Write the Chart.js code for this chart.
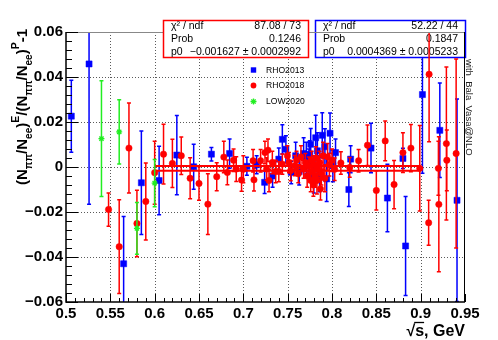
<!DOCTYPE html>
<html><head><meta charset="utf-8">
<script src="https://cdn.jsdelivr.net/npm/chart.js@4.4.1/dist/chart.umd.min.js"></script>
<style>html,body{margin:0;padding:0;background:#fff;}canvas{display:block;}</style>
</head><body>
<canvas id="c" width="498" height="340"></canvas>
<script>
// ---------- data ----------
const x2013 = [0.506,0.526,0.565,0.585,0.605,0.625,0.644,0.664,0.6845,0.704,0.715,0.724,0.733,0.740,0.744,0.748,0.754,0.759,0.763,0.768,0.771,0.774,0.775,0.776,0.7795,0.7816,0.7835,0.786,0.789,0.792,0.794,0.7978,0.801,0.804,0.819,0.821,0.844,0.8625,0.880,0.883,0.902,0.9216,0.941];
const y2013 = [0.0226,0.0458,-0.043,-0.007,-0.006,0.0053,0.0001,0.0057,0.006,0.0003,0.001,-0.0068,-0.004,0.0035,0.0123,0.0079,-0.0024,0.005,-0.002,0.006,0.004,0.002,0.0057,0.0101,-0.0045,0.013,0.0072,-0.003,0.0141,0.009,-0.0053,0.015,0.0005,0.0064,-0.010,0.0035,0.0084,-0.0138,0.0038,-0.0351,0.0322,0.0163,-0.0148];
const e2013 = [0.016,0.0624,0.021,0.023,0.0152,0.0176,0.010,0.003,0.0065,0.004,0.004,0.005,0.005,0.005,0.0065,0.006,0.005,0.006,0.006,0.007,0.007,0.006,0.006,0.007,0.007,0.010,0.008,0.008,0.010,0.008,0.010,0.009,0.007,0.006,0.0075,0.006,0.011,0.015,0.0045,0.022,0.035,0.021,0.045];

const x2018 = [0.548,0.560,0.571,0.580,0.590,0.600,0.610,0.620,0.630,0.640,0.650,0.660,0.670,0.678,0.682,0.689,0.692,0.698,0.700,0.711,0.712,0.7195,0.7244,0.7263,0.7278,0.729,0.7327,0.7365,0.740,0.744,0.7497,0.7515,0.7534,0.758,0.760,0.762,0.765,0.768,0.770,0.772,0.774,0.776,0.777,0.778,0.779,0.780,0.781,0.782,0.783,0.784,0.786,0.787,0.788,0.790,0.792,0.795,0.797,0.800,0.803,0.810,0.820,0.830,0.840,0.850,0.860,0.870,0.880,0.889,0.899,0.909,0.9095,0.920,0.9205,0.929,0.9295,0.940];
const y2018 = [-0.0189,-0.0354,0.0084,-0.0251,-0.0153,-0.0025,0.0057,0.0016,0.0050,-0.0050,-0.0073,-0.0165,-0.0043,0.0044,-0.0024,0.0030,-0.0009,-0.0058,-0.0010,0.0028,-0.0057,0.0028,0.0064,-0.0009,0.0075,-0.0060,0.0020,-0.0020,-0.0020,0.0013,0.0050,0.0020,-0.0016,0.0006,0.0030,-0.0030,0.0045,-0.0010,0.0020,-0.0040,0.0005,-0.0060,0.0030,-0.0020,-0.0080,0.0010,-0.0040,0.0040,-0.0060,-0.0010,0.0020,-0.0097,-0.0030,0.0050,-0.0050,0.0045,0.0010,0.0030,-0.0010,0.0018,-0.0002,0.0028,0.0097,-0.0104,0.0116,-0.0078,0.0064,0.0084,-0.0006,-0.0248,0.0412,-0.0006,-0.0166,0.0104,0.0030,0.0060];
const e2018 = [0.0074,0.0208,0.0200,0.0148,0.0171,0.0140,0.0133,0.0107,0.0083,0.0091,0.0075,0.0135,0.0062,0.0070,0.0055,0.0050,0.0055,0.0050,0.0060,0.0050,0.0050,0.0050,0.0050,0.0050,0.0050,0.0050,0.0050,0.0050,0.0045,0.0045,0.0045,0.0045,0.0045,0.0045,0.0040,0.0040,0.0050,0.0040,0.0040,0.0050,0.0040,0.0050,0.0040,0.0040,0.0050,0.0040,0.0050,0.0050,0.0060,0.0050,0.0050,0.0050,0.0050,0.0060,0.0060,0.0060,0.0050,0.0050,0.0050,0.0050,0.0044,0.0050,0.0090,0.0087,0.0088,0.0107,0.0088,0.0105,0.0190,0.0100,0.0300,0.0120,0.0300,0.0340,0.0135,0.0420];

const xLow = [0.540,0.560,0.580,0.600];
const yLow = [0.0126,0.0156,-0.0273,-0.0072];
const eLow = [0.0257,0.0143,0.0115,0.0105];

const fitRange = [0.6, 0.9];
const fitP0_2013 = 0.0004369;
const fitP0_2018 = -0.001627;

const statLabels = ['\u03c7\u00b2 / ndf', 'Prob', 'p0'];
const stat2018 = ['87.08 / 73', '0.1246', '\u22120.001627 \u00b1 0.0002992'];
const stat2013 = ['52.22 / 44', '0.1847', '0.0004369 \u00b1 0.0005233'];
const legendLabels = ['RHO2013', 'RHO2018', 'LOW2020'];

const xTickValues = [0.5,0.55,0.6,0.65,0.7,0.75,0.8,0.85,0.9,0.95];
const xTickLabels = ['0.5','0.55','0.6','0.65','0.7','0.75','0.8','0.85','0.9','0.95'];
const yTickValues = [-0.06,-0.04,-0.02,0,0.02,0.04,0.06];
const yTickLabels = ['\u22120.06','\u22120.04','\u22120.02','0','0.02','0.04','0.06'];
const xTitle = ['\u221a', 's', ', GeV'];
const yTitleParts = [['(N','m'],['\u03c0\u03c0','b'],['/N','m'],['ee','b'],[')','m'],['E','p'],['/(N','m'],['\u03c0\u03c0','b'],['/N','m'],['ee','b'],[')','m'],['P','p'],['-1','m']];
const sideNote = 'with_Bala_Vasa@NLO';

// ---------- style ----------
const FONT = '"Liberation Sans", Arial, Helvetica, sans-serif';
const BLUE = '#0000ff', RED = '#ff0000', GREEN = '#22ee22';

function pts(xs, ys) { return xs.map((v, i) => ({x: v, y: ys[i]})); }

function drawStatBox(ctx, x0, y0, w, h, color, values) {
  ctx.save();
  ctx.fillStyle = '#fff';
  ctx.fillRect(x0, y0, w, h);
  ctx.strokeStyle = color; ctx.lineWidth = 1.5;
  ctx.strokeRect(x0, y0, w, h);
  ctx.fillStyle = '#000';
  ctx.font = '10.5px ' + FONT;
  ctx.textBaseline = 'middle';
  const rows = [y0 + 6, y0 + 19, y0 + 31.5];
  statLabels.forEach((l, i) => {
    ctx.textAlign = 'left'; ctx.fillText(l, x0 + 7.5, rows[i]);
    ctx.textAlign = 'right'; ctx.fillText(values[i], x0 + w - 7.5, rows[i]);
  });
  ctx.restore();
}

const rootPlugin = {
  id: 'rootStyle',
  beforeDatasetsDraw(chart) {
    const {ctx, chartArea: a, scales: {x, y}} = chart;
    ctx.save();
    ctx.strokeStyle = '#5a5a5a'; ctx.lineWidth = 1; ctx.setLineDash([1, 2]);
    ctx.beginPath();
    xTickValues.slice(1, -1).forEach(v => {
      const px = Math.round(x.getPixelForValue(v)) + 0.5;
      ctx.moveTo(px, a.top); ctx.lineTo(px, a.bottom);
    });
    yTickValues.slice(1, -1).forEach(v => {
      const py = Math.round(y.getPixelForValue(v)) + 0.5;
      ctx.moveTo(a.left, py); ctx.lineTo(a.right, py);
    });
    ctx.stroke();
    ctx.restore();
  },
  beforeDatasetDraw(chart, args) {
    const ds = chart.data.datasets[args.index];
    if (!ds.errors) return;
    const {ctx, chartArea: a, scales: {x, y}} = chart;
    ctx.save();
    ctx.beginPath(); ctx.rect(a.left, a.top, a.right - a.left, a.bottom - a.top); ctx.clip();
    ctx.strokeStyle = ds.pointBorderColor; ctx.lineWidth = 1.5;
    ctx.beginPath();
    ds.data.forEach((p, i) => {
      const e = ds.errors[i];
      const px = x.getPixelForValue(p.x);
      const y1 = y.getPixelForValue(p.y + e), y2 = y.getPixelForValue(p.y - e);
      ctx.moveTo(px, y1); ctx.lineTo(px, y2);
      ctx.moveTo(px - 2, y1); ctx.lineTo(px + 2, y1);
      ctx.moveTo(px - 2, y2); ctx.lineTo(px + 2, y2);
    });
    ctx.stroke();
    ctx.restore();
  },
  afterDatasetDraw(chart, args) {
    const ds = chart.data.datasets[args.index];
    if (ds.label === legendLabels[0]) drawStatBox(chart.ctx, 315.5, 20.5, 150, 37, BLUE, stat2013);
  },
  afterDatasetsDraw(chart) {
    const {ctx, chartArea: a, scales: {x, y}} = chart;
    ctx.save();
    ctx.strokeStyle = '#888'; ctx.lineWidth = 1;
    ctx.beginPath(); ctx.moveTo(a.left, a.top + 0.5); ctx.lineTo(a.right, a.top + 0.5); ctx.stroke();
    ctx.strokeStyle = '#000';
    ctx.beginPath(); ctx.moveTo(a.right - 0.5, a.top); ctx.lineTo(a.right - 0.5, a.bottom); ctx.stroke();
    ctx.lineWidth = 1.5;
    ctx.beginPath();
    ctx.moveTo(a.left, a.top); ctx.lineTo(a.left, a.bottom); ctx.lineTo(a.right, a.bottom);
    ctx.stroke();
    ctx.lineWidth = 1;
    ctx.beginPath();
    for (let i = 0; i < yTickValues.length; i++) {
      const py = Math.round(y.getPixelForValue(yTickValues[i])) + 0.5;
      ctx.moveTo(a.left, py); ctx.lineTo(a.left + 12, py);
      if (i < yTickValues.length - 1) {
        const step = (yTickValues[i + 1] - yTickValues[i]) / 5;
        for (let k = 1; k < 5; k++) {
          const pm = Math.round(y.getPixelForValue(yTickValues[i] + k * step)) + 0.5;
          ctx.moveTo(a.left, pm); ctx.lineTo(a.left + 6, pm);
        }
      }
    }
    for (let i = 0; i < xTickValues.length; i++) {
      const px = Math.round(x.getPixelForValue(xTickValues[i])) + 0.5;
      ctx.moveTo(px, a.bottom); ctx.lineTo(px, a.bottom - 8);
      if (i < xTickValues.length - 1) {
        const step = (xTickValues[i + 1] - xTickValues[i]) / 5;
        for (let k = 1; k < 5; k++) {
          const pm = Math.round(x.getPixelForValue(xTickValues[i] + k * step)) + 0.5;
          ctx.moveTo(pm, a.bottom); ctx.lineTo(pm, a.bottom - 4);
        }
      }
    }
    ctx.stroke();
    ctx.restore();
  },
  afterDraw(chart) {
    const {ctx, chartArea: a} = chart;
    drawStatBox(ctx, 163.5, 20.5, 145, 37, RED, stat2018);
    ctx.save();
    const lx = 253.5, rows = [70, 85.5, 101.5];
    ctx.fillStyle = BLUE; ctx.fillRect(lx - 2.7, rows[0] - 2.7, 5.4, 5.4);
    ctx.fillStyle = RED; ctx.beginPath(); ctx.arc(lx, rows[1], 2.9, 0, Math.PI * 2); ctx.fill();
    ctx.strokeStyle = GREEN; ctx.lineWidth = 1.3; ctx.beginPath();
    ctx.moveTo(lx - 3, rows[2]); ctx.lineTo(lx + 3, rows[2]);
    ctx.moveTo(lx, rows[2] - 3); ctx.lineTo(lx, rows[2] + 3);
    ctx.moveTo(lx - 2.1, rows[2] - 2.1); ctx.lineTo(lx + 2.1, rows[2] + 2.1);
    ctx.moveTo(lx - 2.1, rows[2] + 2.1); ctx.lineTo(lx + 2.1, rows[2] - 2.1);
    ctx.stroke();
    ctx.fillStyle = '#000'; ctx.font = '8.6px ' + FONT; ctx.textAlign = 'left'; ctx.textBaseline = 'middle';
    legendLabels.forEach((l, i) => ctx.fillText(l, 266, rows[i] + 0.5));

    ctx.font = 'bold 16px ' + FONT; ctx.textBaseline = 'alphabetic'; ctx.textAlign = 'left';
    const wTot = xTitle.reduce((s, t) => s + ctx.measureText(t).width, 0);
    const cx = a.right - wTot; const by = 336;
    const w0 = ctx.measureText(xTitle[0]).width, w1 = ctx.measureText(xTitle[1]).width;
    ctx.fillText(xTitle[0], cx, by);
    ctx.fillText(xTitle[1], cx + w0, by);
    ctx.fillText(xTitle[2], cx + w0 + w1, by);
    ctx.lineWidth = 1.3; ctx.strokeStyle = '#000';
    ctx.beginPath(); ctx.moveTo(cx + w0 - 1, by - 13.5); ctx.lineTo(cx + w0 + w1, by - 13.5); ctx.stroke();

    const fonts = {m: 'bold 15px ' + FONT, b: 'bold 10px ' + FONT, p: 'bold 10.5px ' + FONT};
    const offs = {m: 0, b: 4.5, p: -8};
    let total = 0;
    yTitleParts.forEach(([t, s]) => { ctx.font = fonts[s]; total += ctx.measureText(t).width; });
    ctx.translate(27, 29 + total);
    ctx.rotate(-Math.PI / 2);
    let pos = 0;
    yTitleParts.forEach(([t, s]) => {
      ctx.font = fonts[s];
      ctx.fillText(t, pos, offs[s]);
      pos += ctx.measureText(t).width;
    });
    ctx.setTransform(1, 0, 0, 1, 0, 0);

    ctx.font = '9.5px ' + FONT; ctx.fillStyle = '#222';
    ctx.translate(466, 59); ctx.rotate(Math.PI / 2);
    ctx.fillText(sideNote, 0, 0);
    ctx.restore();
  }
};

new Chart(document.getElementById('c'), {
  type: 'scatter',
  data: {
    datasets: [
      { label: legendLabels[2], data: pts(xLow, yLow), errors: eLow, order: 0,
        pointStyle: 'star', pointRadius: 3, pointBorderColor: GREEN, pointBackgroundColor: GREEN, pointBorderWidth: 1.3 },
      { label: legendLabels[1], data: pts(x2018, y2018), errors: e2018, order: 1,
        pointStyle: 'circle', pointRadius: 3.2, pointBorderColor: RED, pointBackgroundColor: RED, pointBorderWidth: 0.5 },
      { label: 'fit2018', data: pts(fitRange, [fitP0_2018, fitP0_2018]), order: 2, showLine: true,
        borderColor: RED, borderWidth: 2, pointRadius: 0 },
      { label: 'fit2013', data: pts(fitRange, [fitP0_2013, fitP0_2013]), order: 2, showLine: true,
        borderColor: RED, borderWidth: 2, pointRadius: 0 },
      { label: legendLabels[0], data: pts(x2013, y2013), errors: e2013, order: 3,
        pointStyle: 'rect', pointRadius: 4.3, pointBorderColor: BLUE, pointBackgroundColor: BLUE, pointBorderWidth: 0.5 }
    ]
  },
  options: {
    responsive: false, animation: false, devicePixelRatio: 1,
    layout: { padding: { top: 32, right: 33, left: 0, bottom: 0 } },
    plugins: { legend: { display: false }, tooltip: { enabled: false } },
    elements: { point: { hoverRadius: 3 } },
    scales: {
      x: {
        type: 'linear', min: 0.5, max: 0.95,
        afterBuildTicks: s => { s.ticks = xTickValues.map(v => ({value: v})); },
        afterFit: s => { s.height = 38; },
        grid: { display: false, drawTicks: false }, border: { display: false },
        ticks: { autoSkip: false, maxRotation: 0, padding: 3, color: '#000',
          font: { family: FONT, size: 15, weight: 'bold' },
          callback: (v, i) => xTickLabels[i] }
      },
      y: {
        type: 'linear', min: -0.06, max: 0.06,
        afterBuildTicks: s => { s.ticks = yTickValues.map(v => ({value: v})); },
        afterFit: s => { s.width = 66; },
        grid: { display: false, drawTicks: false }, border: { display: false },
        ticks: { autoSkip: false, padding: 3, color: '#000',
          font: { family: FONT, size: 15, weight: 'bold' },
          callback: (v, i) => yTickLabels[i] }
      }
    }
  },
  plugins: [rootPlugin]
});
</script>
</body></html>
